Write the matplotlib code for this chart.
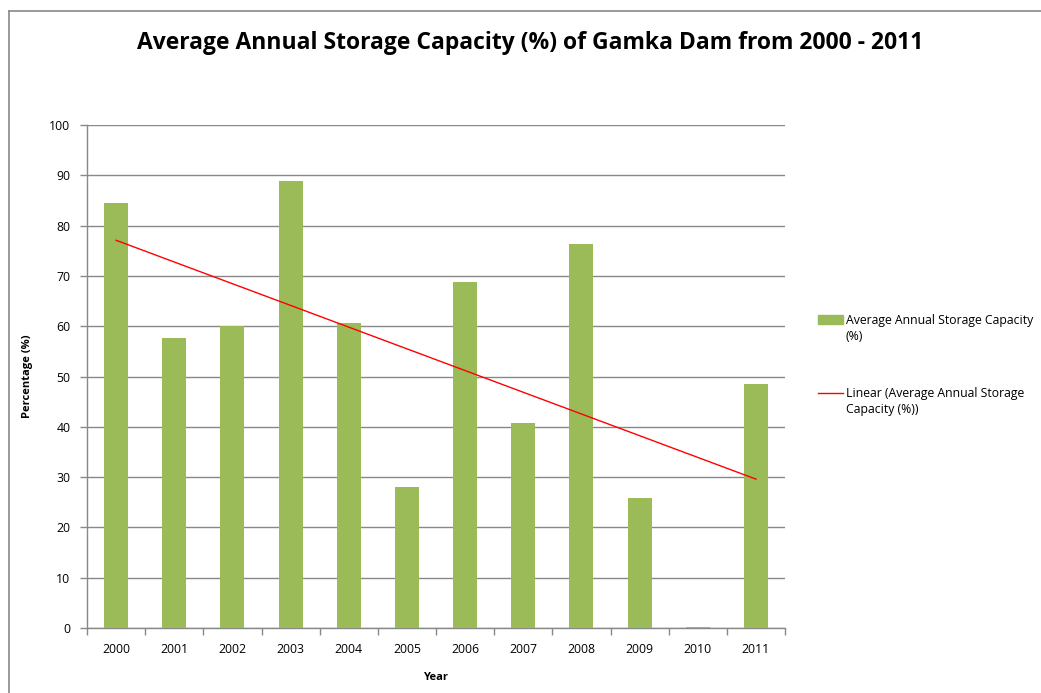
import matplotlib
matplotlib.use("Agg")
import matplotlib.pyplot as plt
import numpy as np
from matplotlib.lines import Line2D
from matplotlib.patches import Rectangle

years = ["2000", "2001", "2002", "2003", "2004", "2005", "2006", "2007", "2008", "2009", "2010", "2011"]
capacity = [84.5, 57.7, 60.0, 88.9, 60.6, 28.0, 68.8, 40.8, 76.3, 25.8, 0.2, 48.5]
yticks = [0, 10, 20, 30, 40, 50, 60, 70, 80, 90, 100]

plt.rcParams['font.family'] = ['Open Sans', 'DejaVu Sans']

fig = plt.figure(figsize=(10.41, 6.93), dpi=100)
ax = fig.add_axes([87/1041, 1-628/693, (785-87)/1041, (628-125)/693])

x = np.arange(len(years))
ax.bar(x, capacity, width=0.41, color="#9BBB59", zorder=3)

coef = np.polyfit(x, capacity, 1)
ax.plot(x, np.polyval(coef, x), color="#FF0000", lw=1, zorder=4)

ax.set_xlim(-0.5, len(years) - 0.5)
ax.set_ylim(0, 100)
ax.set_yticks(yticks)
ax.set_yticklabels([str(v) for v in yticks], fontsize=8.8)
ax.set_xticks(x)
ax.set_xticklabels(years, fontsize=8.8)
ax.set_xticks(np.arange(-0.5, len(years), 1), minor=True)
ax.tick_params(axis='x', which='major', length=0, pad=11)
ax.tick_params(axis='x', which='minor', length=5, color="#888888", width=1)
ax.tick_params(axis='y', length=5, color="#888888", width=1, pad=7)
ax.grid(axis='y', color="#888888", lw=1, zorder=0)
for s in ['top', 'right']:
    ax.spines[s].set_visible(False)
for s in ['left', 'bottom']:
    ax.spines[s].set_color("#888888")
    ax.spines[s].set_linewidth(1)

ax.set_ylabel("Percentage (%)", fontsize=8, fontweight='bold', labelpad=12)
ax.set_xlabel("Year", fontsize=8, fontweight='bold', labelpad=11)

fig.text(530/1041, 1-43/693, "Average Annual Storage Capacity (%) of Gamka Dam from 2000 - 2011",
         ha='center', va='center', fontsize=16.5, fontweight='bold')

# legend (manual, clipped at figure edge)
fig.add_artist(Rectangle((818/1041, 1-324/693), 25/1041, 9/693, transform=fig.transFigure,
                         color="#9BBB59"))
fig.text(846/1041, 1-320/693, "Average Annual Storage Capacity", fontsize=8.8, va='center')
fig.text(846/1041, 1-336/693, "(%)", fontsize=8.8, va='center')
fig.add_artist(Line2D([818/1041, 843/1041], [1-393/693, 1-393/693], transform=fig.transFigure,
                      color="#FF0000", lw=1))
fig.text(846/1041, 1-393/693, "Linear (Average Annual Storage", fontsize=8.8, va='center')
fig.text(846/1041, 1-409/693, "Capacity (%))", fontsize=8.8, va='center')

# chart border
fig.add_artist(Line2D([8.5/1041, 8.5/1041], [0, 1-10.5/693], transform=fig.transFigure,
                      color="#888888", lw=1.2))
fig.add_artist(Line2D([8.5/1041, 1], [1-10.5/693, 1-10.5/693], transform=fig.transFigure,
                      color="#888888", lw=1.2))

fig.savefig("out.png", dpi=100)
